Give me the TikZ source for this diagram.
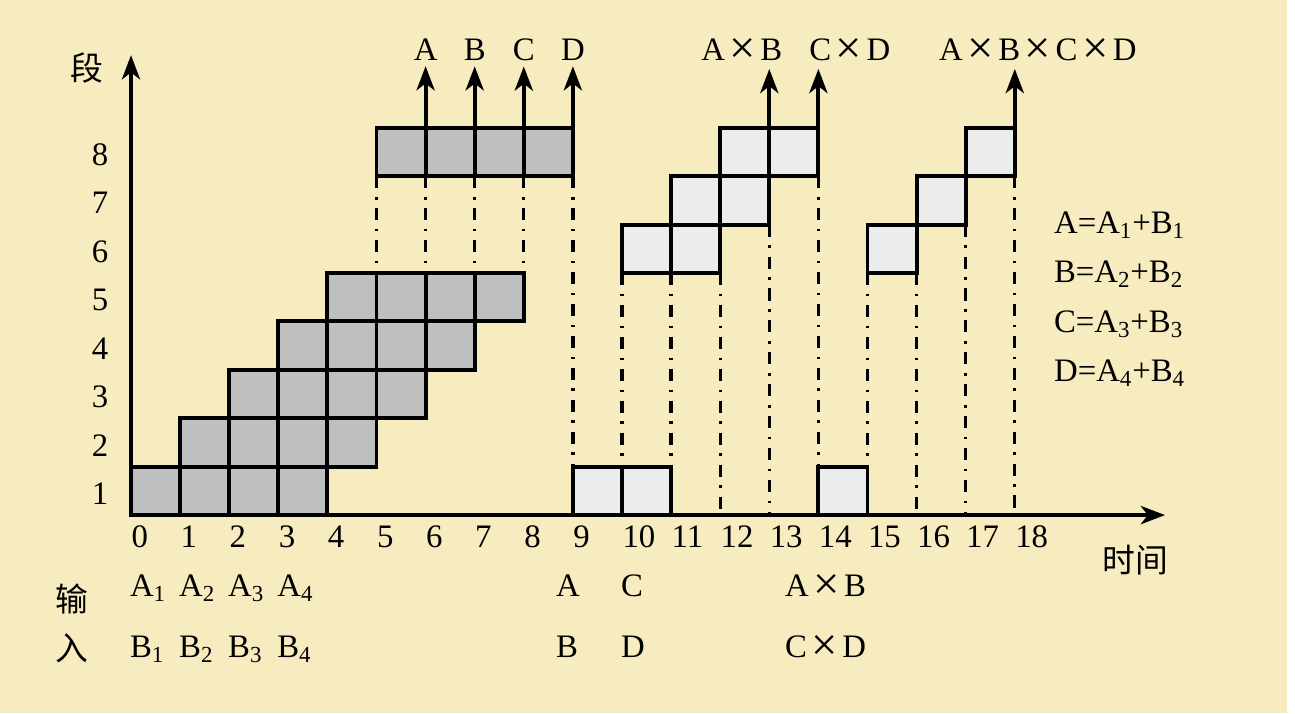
\documentclass[tikz,border=0pt]{standalone}
\usepackage{fontspec}
\setmainfont{Liberation Serif}
\newfontfamily\cjk{Noto Sans CJK SC}
\usepackage{tikz}
\usepackage{xcolor}
\usetikzlibrary{arrows.meta}
\definecolor{bgbeige}{RGB}{247,235,192}
\newcommand{\stagecell}[3]{
	%one stage busy for one time step
	\draw[fill=#3] (#1,#2-1) rectangle (#1+1,#2);
}
\newcommand{\cellgray}{gray!50}
\newcommand{\celldot}{gray!15}
\newcommand{\mul}{\hspace{0.14em}\raisebox{-1.6pt}{\fontsize{27}{27}\selectfont ×}\hspace{0.14em}}

\begin{document}
\begin{tikzpicture}[x=1cm, y=0.986cm, line width=2.3pt,
    lbl/.style={inner sep=0pt, font=\fontsize{19}{22}\selectfont},
    outlbl/.style={lbl, anchor=base, outer sep=3pt},
    chainline/.style={line width=1.9pt, dash pattern=on 7pt off 5pt on 1.5pt off 5pt},
    axisarrow/.style={-{Stealth[length=14pt,width=10.5pt,inset=4pt]}}]
            \useasboundingbox (-2.668,-4.09) rectangle (23.707,10.64);
            \fill[bgbeige] (-2.668,-4.09) rectangle (23.54,10.64);
            %
            %dash-dot lines
            \draw[chainline] (5,7) -- (5,5);
            \draw[chainline] (6,7) -- (6,5);
            \draw[chainline] (7,7) -- (7,5);
            \draw[chainline] (8,7) -- (8,5);
            \draw[chainline] (9,7) -- (9,1);
            \draw[chainline] (10,5) -- (10,1);
            \draw[chainline] (11,5) -- (11,1);
            \draw[chainline] (12,5) -- (12,0);
            \draw[chainline] (13,6) -- (13,0);
            \draw[chainline] (14,7) -- (14,1);
            \draw[chainline] (15,5) -- (15,1);
            \draw[chainline] (16,5) -- (16,0);
            \draw[chainline] (17,6) -- (17,0);
            \draw[chainline] (18,7) -- (18,0);
            %
            %adder
            \stagecell{0}{1}{\cellgray} \stagecell{1}{1}{\cellgray} \stagecell{2}{1}{\cellgray} \stagecell{3}{1}{\cellgray}
            \stagecell{1}{2}{\cellgray} \stagecell{2}{2}{\cellgray} \stagecell{3}{2}{\cellgray} \stagecell{4}{2}{\cellgray}
            \stagecell{2}{3}{\cellgray} \stagecell{3}{3}{\cellgray} \stagecell{4}{3}{\cellgray} \stagecell{5}{3}{\cellgray}
            \stagecell{3}{4}{\cellgray} \stagecell{4}{4}{\cellgray} \stagecell{5}{4}{\cellgray} \stagecell{6}{4}{\cellgray}
            \stagecell{4}{5}{\cellgray} \stagecell{5}{5}{\cellgray} \stagecell{6}{5}{\cellgray} \stagecell{7}{5}{\cellgray}
            \stagecell{5}{8}{\cellgray} \stagecell{6}{8}{\cellgray} \stagecell{7}{8}{\cellgray} \stagecell{8}{8}{\cellgray}
            %
            %multiplier
            \stagecell{9}{1}{\celldot} \stagecell{10}{1}{\celldot} \stagecell{14}{1}{\celldot}
            \stagecell{10}{6}{\celldot} \stagecell{11}{6}{\celldot} \stagecell{15}{6}{\celldot}
            \stagecell{11}{7}{\celldot} \stagecell{12}{7}{\celldot} \stagecell{16}{7}{\celldot}
            \stagecell{12}{8}{\celldot} \stagecell{13}{8}{\celldot} \stagecell{17}{8}{\celldot}
            %
            %axes
            \coordinate (O) at (0,0);
            \draw[axisarrow] (O) -- (0,9.5);
            \draw[axisarrow] (O) -- (21.06,0);
            \node[lbl] (duan) at (-0.9,9.24) {\cjk 段};
            \node[lbl] (time) at (20.45,-0.93) {\cjk 时间};
            \foreach \i in {0,...,18}
                \node[lbl, anchor=base west] (t\i) at (\i-0.03,-0.66) {\i};
            \foreach \k in {1,...,8}
                \node[lbl, anchor=base] (r\k) at (-0.63,\k-0.78) {\k};
            %
            %outputs
            \node[outlbl] (outA) at (6,9.38) {A};
            \node[outlbl] (outB) at (7,9.38) {B};
            \node[outlbl] (outC) at (8,9.38) {C};
            \node[outlbl] (outD) at (9,9.38) {D};
            \node[outlbl] (outAB) at (12.44,9.38) {A\mul B};
            \node[outlbl] (outCD) at (14.64,9.38) {C\mul D};
            \node[outlbl] (outABCD) at (18.47,9.38) {A\mul B\mul C\mul D};
            \draw[axisarrow] (6,8) -- (outA.south);
            \draw[axisarrow] (7,8) -- (outB.south);
            \draw[axisarrow] (8,8) -- (outC.south);
            \draw[axisarrow] (9,8) -- (outD.south);
            \draw[axisarrow] (13,8) -- (13,8 |- outAB.south);
            \draw[axisarrow] (14,8) -- (14,8 |- outCD.south);
            \draw[axisarrow] (18,8) -- (18,8 |- outABCD.south);
            %
            %inputs
            \node[lbl] (shu) at (-1.2,-1.74) {\cjk 输};
            \node[lbl] (ru) at (-1.2,-2.75) {\cjk 入};
            \foreach \i in {1,...,4}{
                \node[lbl, anchor=base west] (inA\i) at (\i-1.06,-1.69) {A\textsubscript{\i}};
                \node[lbl, anchor=base west] (inB\i) at (\i-1.06,-2.95) {B\textsubscript{\i}};
            }
            \node[lbl, anchor=base west] (inA) at (8.62,-1.69) {A};
            \node[lbl, anchor=base west] (inB) at (8.62,-2.95) {B};
            \node[lbl, anchor=base west] (inC) at (9.94,-1.69) {C};
            \node[lbl, anchor=base west] (inD) at (9.94,-2.95) {D};
            \node[lbl, anchor=base west] (inAB) at (13.28,-1.69) {A\mul B};
            \node[lbl, anchor=base west] (inCD) at (13.28,-2.95) {C\mul D};
            %
            %sums
            \node[lbl, anchor=base west] (eqA) at (18.76,5.82) {A=A\textsubscript{1}+B\textsubscript{1}};
            \node[lbl, anchor=base west] (eqB) at (18.76,4.80) {B=A\textsubscript{2}+B\textsubscript{2}};
            \node[lbl, anchor=base west] (eqC) at (18.76,3.78) {C=A\textsubscript{3}+B\textsubscript{3}};
            \node[lbl, anchor=base west] (eqD) at (18.76,2.76) {D=A\textsubscript{4}+B\textsubscript{4}};
\end{tikzpicture}
\end{document}
